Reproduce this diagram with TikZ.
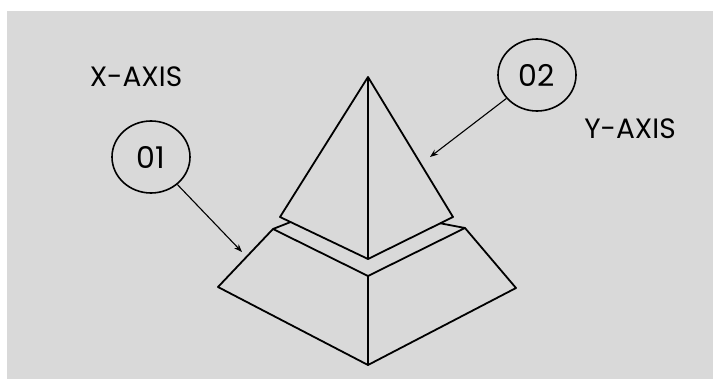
\documentclass[tikz,border=0pt]{standalone}
\usepackage{fontspec}
\setmainfont{Poppins}
\usetikzlibrary{shapes.geometric,arrows.meta,calc}
\definecolor{bggray}{HTML}{D9D9D9}
\begin{document}
\begin{tikzpicture}[x=1pt,y=-1pt,
    edge/.style={line width=1.8pt,line join=round},
    callout/.style={ellipse,draw,line width=1.6pt,inner sep=0pt,
        minimum width=78pt,minimum height=72pt,font=\fontsize{30}{30}\selectfont},
    pointer/.style={-{Stealth[length=8pt,width=6pt]},line width=1.1pt},
    axislabel/.style={font=\fontsize{28}{28}\selectfont}]
    \useasboundingbox (0,0) rectangle (713,379);
    \fill[bggray] (7,11) rectangle (713,379);
    % top pyramid
    \coordinate (apex) at (368,77);
    \coordinate (top left) at (280,217);
    \coordinate (top right) at (453,217);
    \coordinate (top front) at (368,259);
    % lower frustum
    \coordinate (mid left) at (273,229);
    \coordinate (mid right) at (465,228);
    \coordinate (mid front) at (368,276);
    \coordinate (base left) at (218,287);
    \coordinate (base right) at (516,288);
    \coordinate (base front) at (368,365);
    \draw[edge] (apex) -- (top left) -- (top front) -- (top right) -- cycle;
    \draw[edge] (apex) -- (top front);
    \draw[edge] ($(top left)!0.12!(top front)$) -- (mid left) -- (mid front) -- (mid right)
        -- ($(top right)!0.15!(top front)$);
    \draw[edge] (mid left) -- (base left) -- (base front) -- (base right) -- (mid right);
    \draw[edge] (mid front) -- (base front);
    % labels
    \node (x axis) [axislabel] at (136,77) {X-AXIS};
    \node (y axis) [axislabel] at (630,129) {Y-AXIS};
    \node (one) [callout] at (151,157) {01};
    \node (two) [callout] at (537,75) {02};
    \coordinate (one tip) at (242,252);
    \coordinate (two tip) at (430,157);
    \draw[pointer] (one) -- (one tip);
    \draw[pointer] (two) -- (two tip);
\end{tikzpicture}
\end{document}
